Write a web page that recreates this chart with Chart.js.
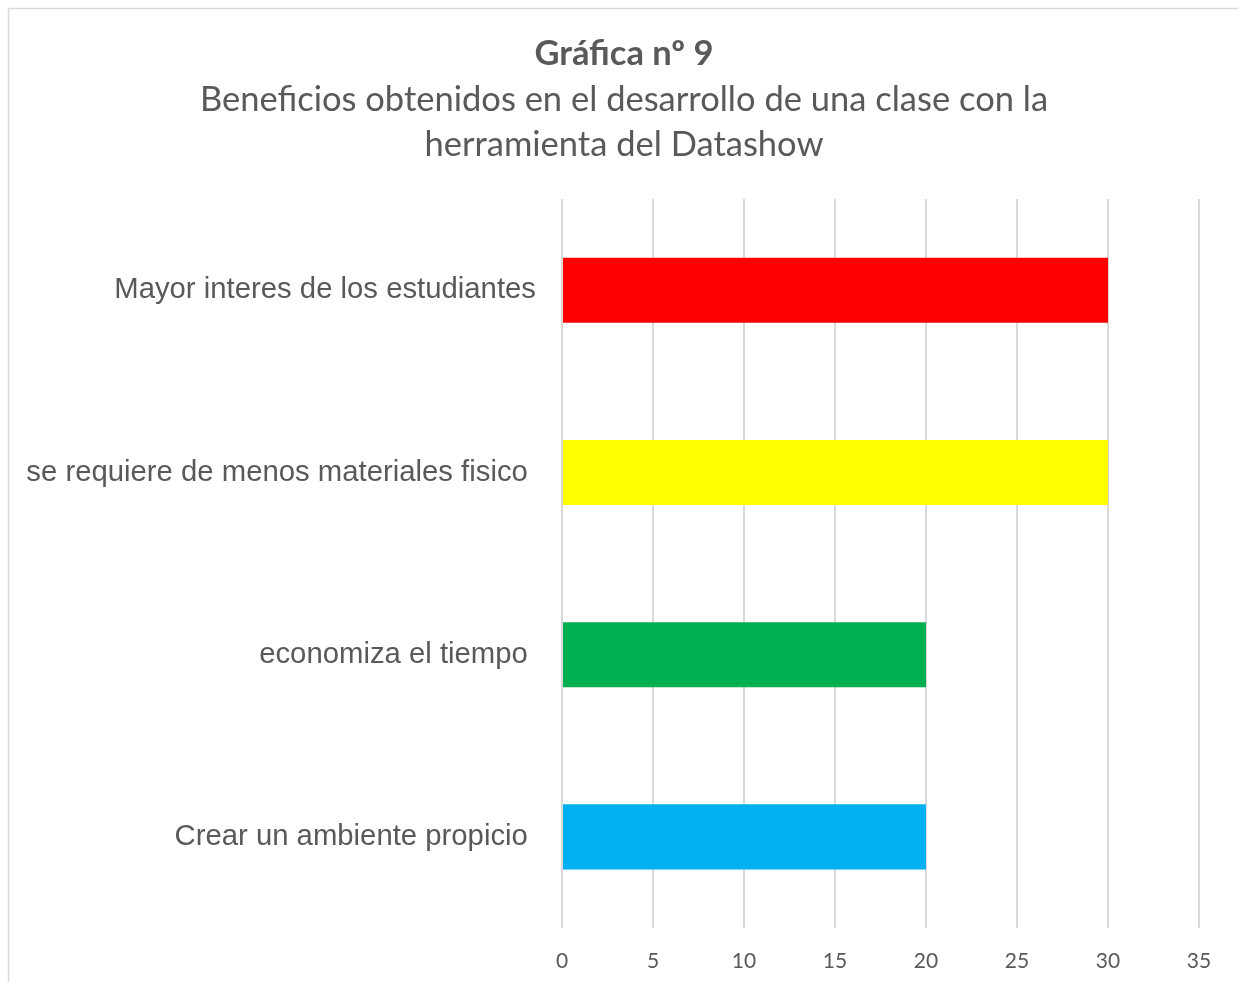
<!DOCTYPE html>
<html>
<head>
<meta charset="utf-8">
<script src="https://cdn.jsdelivr.net/npm/chart.js@4.4.1/dist/chart.umd.min.js"></script>
<style>
  html, body { margin: 0; padding: 0; background: #fff; overflow: hidden; }
  #wrap { position: relative; width: 1238px; height: 982px; }
</style>
</head>
<body>
<div id="wrap"><canvas id="chart"></canvas></div>
<script>
// chart data
const categories = [
  'Mayor interes de los estudiantes',
  'se requiere de menos materiales fisico ',
  'economiza el tiempo ',
  'Crear un ambiente propicio '
];
const values = [30, 30, 20, 20];
const barColors = ['#FF0000', '#FFFF00', '#00B050', '#00B0F0'];
const titleText = 'Gráfica nº 9';
const subtitleLines = ['Beneficios obtenidos en el desarrollo de una clase con la', 'herramienta del Datashow'];

const textGrey = '#595959';

// thin outer frame like the spreadsheet chart box
const framePlugin = {
  id: 'frame',
  beforeDraw(chart) {
    const ctx = chart.ctx;
    ctx.save();
    ctx.strokeStyle = '#d9d9d9';
    ctx.lineWidth = 1.5;
    ctx.beginPath();
    ctx.moveTo(8.5, chart.height);
    ctx.lineTo(8.5, 8.5);
    ctx.lineTo(chart.width, 8.5);
    ctx.stroke();
    ctx.restore();
  }
};

const ctx = document.getElementById('chart').getContext('2d');
new Chart(ctx, {
  type: 'bar',
  data: {
    labels: categories,
    datasets: [{
      data: values,
      backgroundColor: barColors,
      borderWidth: 0,
      barPercentage: 0.357,
      categoryPercentage: 1
    }]
  },
  plugins: [framePlugin],
  options: {
    indexAxis: 'y',
    responsive: true,
    maintainAspectRatio: false,
    animation: false,
    layout: { padding: { left: 10, right: 0, top: 0, bottom: 0 } },
    plugins: {
      legend: { display: false },
      tooltip: { enabled: false },
      title: {
        display: true,
        text: titleText,
        color: textGrey,
        font: { family: 'Lato', size: 34.5, weight: 'bold', lineHeight: 1.2 },
        padding: { top: 33, bottom: 3 }
      },
      subtitle: {
        display: true,
        text: subtitleLines,
        color: textGrey,
        font: { family: 'Lato', size: 34.5, weight: 'normal', lineHeight: 1.3 },
        padding: { top: 0, bottom: 32 }
      }
    },
    scales: {
      x: {
        min: 0,
        max: 35,
        ticks: {
          stepSize: 5,
          color: textGrey,
          font: { family: 'Lato', size: 21 },
          padding: 21
        },
        grid: { color: '#d9d9d9', lineWidth: 2, drawTicks: false },
        border: { display: false },
        afterFit(scale) { scale.height = 54; }
      },
      y: {
        ticks: {
          color: textGrey,
          font: { family: 'Liberation Sans', size: 29.3 },
          padding: 18
        },
        grid: { display: false },
        border: { display: false },
        afterFit(scale) { scale.width = 552; }
      },
      // empty right-hand spacer so the plot ends at the 35 line
      yRight: {
        type: 'linear',
        position: 'right',
        ticks: { display: false },
        grid: { display: false },
        border: { display: false },
        afterFit(scale) { scale.width = 39; }
      }
    }
  }
});
</script>
</body>
</html>
